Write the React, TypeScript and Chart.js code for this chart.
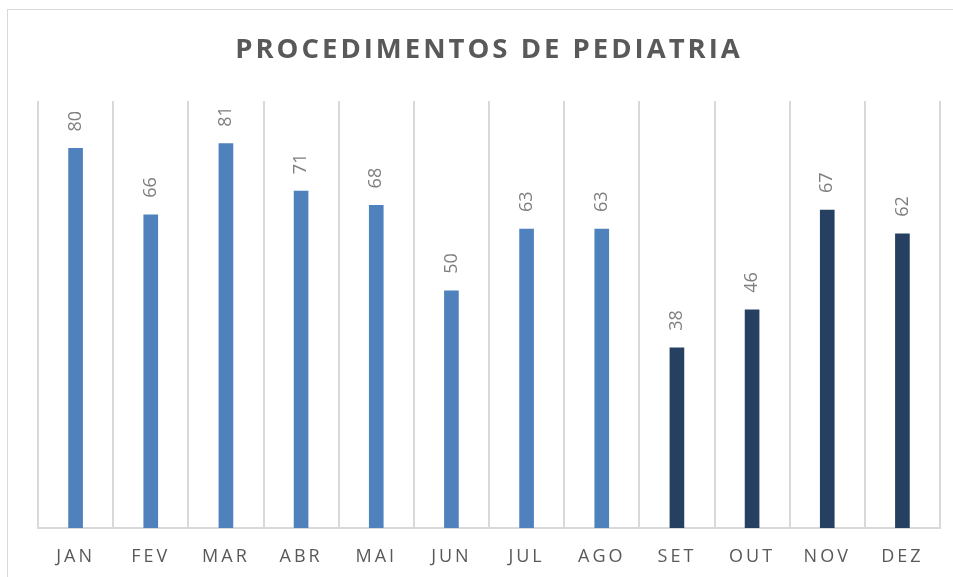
import React, { useEffect, useRef } from "react";
import { Chart, registerables } from "chart.js";

Chart.register(...registerables);

const months = ["JAN", "FEV", "MAR", "ABR", "MAI", "JUN", "JUL", "AGO", "SET", "OUT", "NOV", "DEZ"];
const procedures = [80, 66, 81, 71, 68, 50, 63, 63, 38, 46, 67, 62];
const barColors = [
  "#4F81BD", "#4F81BD", "#4F81BD", "#4F81BD", "#4F81BD", "#4F81BD",
  "#4F81BD", "#4F81BD", "#254061", "#254061", "#254061", "#254061",
];
const chartTitle = "PROCEDIMENTOS DE PEDIATRIA";
const yMax = 90;

const FONT = "'Open Sans', 'Noto Sans', sans-serif";

const spacingPlugin = {
  id: "spacing",
  beforeDraw(chart: any) {
    (chart.ctx as any).letterSpacing = "3px";
  },
  afterDraw(chart: any) {
    (chart.ctx as any).letterSpacing = "0px";
  },
};

const labelPlugin = {
  id: "rotLabels",
  afterDatasetsDraw(chart: any) {
    const ctx = chart.ctx;
    const meta = chart.getDatasetMeta(0);
    const data = chart.data.datasets[0].data;
    meta.data.forEach((bar: any, i: number) => {
      ctx.save();
      (ctx as any).letterSpacing = "0px";
      ctx.translate(bar.x, bar.y - 17);
      ctx.rotate(-Math.PI / 2);
      ctx.font = `18px ${FONT}`;
      ctx.fillStyle = "#7F7F7F";
      ctx.textAlign = "left";
      ctx.textBaseline = "middle";
      ctx.fillText(String(data[i]), 0, 0);
      ctx.restore();
    });
  },
};

export default function App() {
  const ref = useRef<HTMLCanvasElement>(null);
  useEffect(() => {
    if (!ref.current) return;
    const chart = new Chart(ref.current, {
      type: "bar",
      data: {
        labels: months,
        datasets: [
          {
            data: procedures,
            backgroundColor: barColors,
            barThickness: 14,
          },
        ],
      },
      options: {
        animation: false,
        responsive: false,
        maintainAspectRatio: false,
        layout: { padding: { left: 38, right: 13, top: 34, bottom: 0 } },
        plugins: {
          legend: { display: false },
          tooltip: { enabled: false },
          title: {
            display: true,
            text: chartTitle,
            color: "#595959",
            font: { family: FONT, size: 27.5, weight: "bold" },
            padding: { top: 0, bottom: 34 },
          },
        },
        scales: {
          x: {
            grid: {
              display: true,
              offset: true,
              color: "#D9D9D9",
              lineWidth: 2,
              drawTicks: false,
            },
            border: { display: true, color: "#D9D9D9", width: 2 },
            ticks: {
              color: "#595959",
              font: { family: FONT, size: 18 },
              padding: 18,
            },
            afterFit(scale: any) {
              scale.height = 49;
            },
          },
          y: {
            display: false,
            min: 0,
            max: yMax,
          },
        },
      },
      plugins: [spacingPlugin, labelPlugin],
    });
    return () => chart.destroy();
  }, []);
  return (
    <div style={{ position: "fixed", left: 0, top: 0, width: 953, height: 577, overflow: "hidden", background: "#fff" }}>
      <div style={{ position: "absolute", left: 7, top: 9, width: 1000, height: 1000, border: "1px solid #D9D9D9" }} />
      <canvas ref={ref} width={953} height={577} style={{ position: "absolute", left: 0, top: 0 }} />
    </div>
  );
}
